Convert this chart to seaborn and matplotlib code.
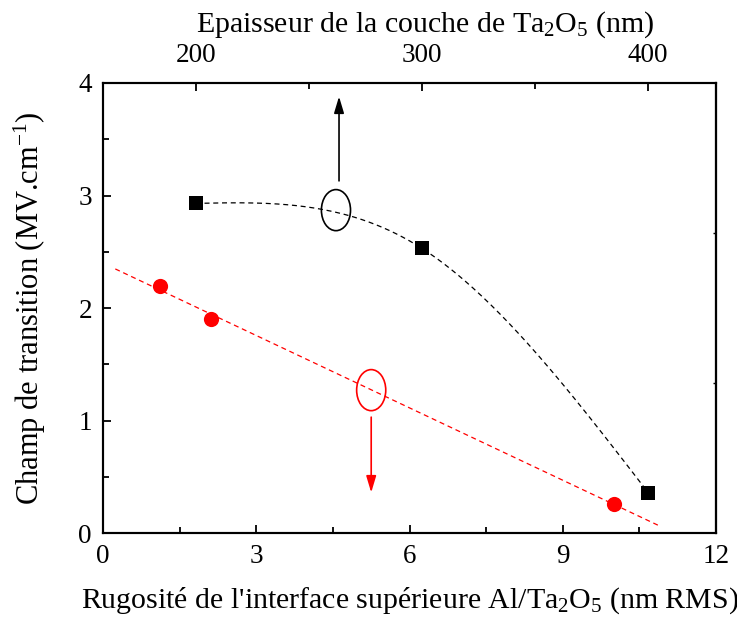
import numpy as np
import pandas as pd
import seaborn as sns
import matplotlib
matplotlib.use("Agg")
import matplotlib.pyplot as plt
from matplotlib.patches import Ellipse

# --- data ------------------------------------------------------------------
# red circles : roughness of the upper Al/Ta2O5 interface (bottom axis)
roughness = [1.12, 2.11, 10.0]
field_rough = [2.20, 1.90, 0.26]

# black squares : Ta2O5 layer thickness (top axis)
thickness = [200, 300, 400]
field_thick = [2.93, 2.53, 0.36]

fit_range = (0.24, 10.88)   # extent of the dashed linear fit

sns.set_theme(style="ticks")
plt.rcParams["font.family"] = ["Liberation Serif", "DejaVu Serif"]
plt.rcParams["mathtext.fontset"] = "custom"
plt.rcParams["mathtext.rm"] = "Liberation Serif"
plt.rcParams["mathtext.default"] = "regular"
plt.rcParams["axes.linewidth"] = 1.5
for k in ["text.color", "axes.labelcolor", "xtick.color", "ytick.color",
          "axes.edgecolor"]:
    plt.rcParams[k] = "black"


def natural_spline(x, y, n=200):
    # natural cubic spline through the points (like Origin's spline connection)
    x = np.asarray(x, float)
    y = np.asarray(y, float)
    h = np.diff(x)
    m = len(x)
    A = np.zeros((m, m))
    b = np.zeros(m)
    A[0, 0] = A[-1, -1] = 1.
    for i in range(1, m - 1):
        A[i, i - 1] = h[i - 1]
        A[i, i] = 2 * (h[i - 1] + h[i])
        A[i, i + 1] = h[i]
        b[i] = 6 * ((y[i + 1] - y[i]) / h[i] - (y[i] - y[i - 1]) / h[i - 1])
    M = np.linalg.solve(A, b)
    xs = np.linspace(x[0], x[-1], n)
    k = np.clip(np.searchsorted(x, xs) - 1, 0, m - 2)
    t0, t1, hk = xs - x[k], x[k + 1] - xs, h[k]
    ys = (M[k] * t1**3 + M[k + 1] * t0**3) / (6 * hk) \
        + (y[k] / hk - M[k] * hk / 6) * t1 + (y[k + 1] / hk - M[k + 1] * hk / 6) * t0
    return xs, ys


fig = plt.figure(figsize=(7.37, 6.18), dpi=100)
ax = fig.add_axes([0.1398, 0.1375, 0.8317, 0.7282])

# linear fit of the roughness data
slope, icpt = np.polyfit(roughness, field_rough, 1)
xf = np.array(fit_range)
fit = pd.DataFrame({"x": xf, "y": slope * xf + icpt})
sns.lineplot(data=fit, x="x", y="y", ax=ax, color="red", lw=0.9,
             linestyle=(0, (4, 3)))
sns.scatterplot(x=roughness, y=field_rough, ax=ax, color="red", s=120,
                marker="o", edgecolor="red", linewidth=0, zorder=5)

ax.set_xlim(0, 12)
ax.set_ylim(0, 4)
ax.set_xticks([0, 3, 6, 9, 12])
ax.set_xticks(np.arange(1.5, 12, 3), minor=True)
ax.set_yticks([0, 1, 2, 3, 4])
ax.set_yticks(np.arange(0.5, 4, 1), minor=True)
ax.tick_params(which="both", direction="in", width=1.3, labelsize=19.5,
               top=False, right=False)
ax.tick_params(which="major", length=6, pad=8)
ax.tick_params(which="minor", length=4)
ax.set_xlabel("Rugosité de l'interface supérieure Al/Ta$_2$O$_5$ (nm RMS)",
              fontsize=21.5, labelpad=12)
ax.set_ylabel("Champ de transition (MV.cm$^{-1}$)", fontsize=22, labelpad=22)

# top axis : layer thickness
ax2 = ax.twiny()
xs, ys = natural_spline(thickness, field_thick)
sns.lineplot(x=xs, y=ys, ax=ax2, color="black", lw=0.9,
             linestyle=(0, (4, 3)), sort=False)
sns.scatterplot(x=thickness, y=field_thick, ax=ax2, color="black", s=110,
                marker="s", linewidth=0, zorder=5)
ax2.set_xlim(159, 430)
ax2.set_ylim(0, 4)
ax2.set_xticks([200, 300, 400])
ax2.set_xticks([250, 350], minor=True)
ax2.tick_params(which="both", direction="in", width=1.3, labelsize=19.5,
                bottom=False, left=False, right=False)
ax2.tick_params(which="major", length=6, pad=11)
ax2.tick_params(which="minor", length=4)
ax2.set_xlabel("Epaisseur de la couche de Ta$_2$O$_5$ (nm)", fontsize=21.5)
ax2.xaxis.set_label_coords(0.525, 1.115)

# small ticks on the right spine
sec = ax.secondary_yaxis("right")
sec.set_yticks([4 / 3, 8 / 3])
sec.tick_params(direction="in", length=2, width=1.0, labelright=False)

# circles with arrows pointing to the matching axis
ax.add_patch(Ellipse((4.56, 2.87), 0.57, 0.365, fill=False, ec="black",
                     lw=1.2, zorder=6))
ax.annotate("", xy=(4.62, 3.88), xytext=(4.62, 3.13),
            arrowprops=dict(arrowstyle="-|>,head_length=0.5,head_width=0.15",
                            color="black", lw=1.2, mutation_scale=20,
                            shrinkA=0, shrinkB=0))
ax.add_patch(Ellipse((5.25, 1.27), 0.57, 0.365, fill=False, ec="red",
                     lw=1.2, zorder=6))
ax.annotate("", xy=(5.25, 0.36), xytext=(5.25, 1.03),
            arrowprops=dict(arrowstyle="-|>,head_length=0.5,head_width=0.15",
                            color="red", lw=1.2, mutation_scale=20,
                            shrinkA=0, shrinkB=0))

fig.savefig("out.png", dpi=100, facecolor="white")
